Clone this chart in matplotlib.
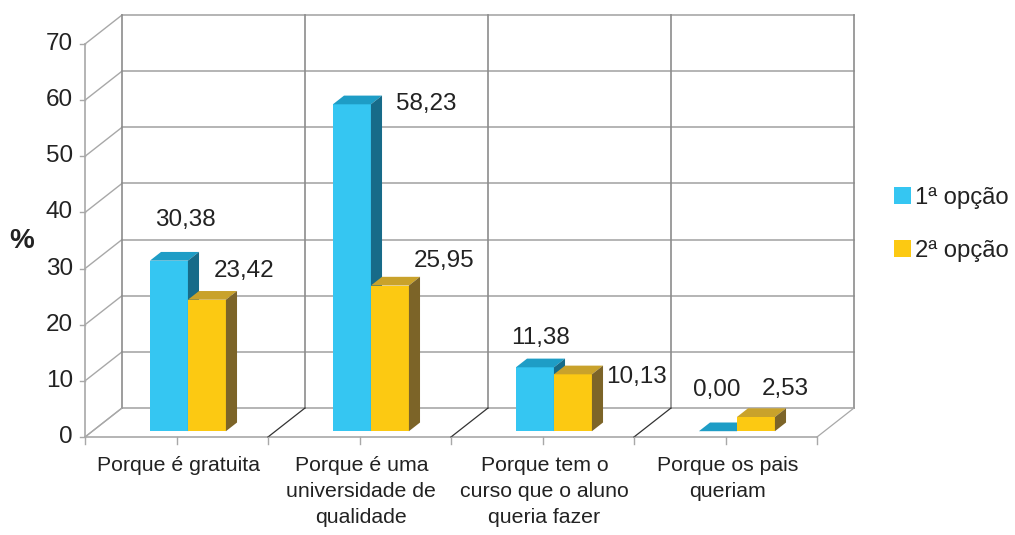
import matplotlib
matplotlib.use("Agg")
import matplotlib.pyplot as plt
from matplotlib.patches import Polygon

plt.rcParams['font.family'] = ['Liberation Sans', 'DejaVu Sans']

categories = ["Porque é gratuita", "Porque é uma\nuniversidade de\nqualidade",
              "Porque tem o\ncurso que o aluno\nqueria fazer", "Porque os pais\nqueriam"]
opcao1 = [30.38, 58.23, 11.38, 0.00]
opcao2 = [23.42, 25.95, 10.13, 2.53]
series_names = ["1ª opção", "2ª opção"]
yticks = [0, 10, 20, 30, 40, 50, 60, 70]
labels1 = ["30,38", "58,23", "11,38", "0,00"]
labels2 = ["23,42", "25,95", "10,13", "2,53"]

W, H = 1015, 535
fig = plt.figure(figsize=(W / 100, H / 100), dpi=100)

# pixel mapping: x=0 -> 85px, 1 unit = 183px ; y=0 -> 437px, 1 unit = 5.614px
PX_X, X0PX = 183.0, 85.0
PX_Y, Y0PX = 5.614, 437.0
xlim = (-0.3, 4.4)
ylim = (-3.0, 76.0)
left = (X0PX + xlim[0] * PX_X) / W
right = (X0PX + xlim[1] * PX_X) / W
bottom = 1 - (Y0PX - ylim[0] * PX_Y) / H
top = 1 - (Y0PX - ylim[1] * PX_Y) / H
ax = fig.add_axes([left, bottom, right - left, top - bottom])
ax.set_xlim(*xlim)
ax.set_ylim(*ylim)
ax.axis('off')

DX = 37 / PX_X
DY = 29 / PX_Y
ymax = 70
ncat = len(categories)
grid_c = '#a8a8a8'
dark_c = '#8c8c8c'
txt_c = '#222222'

# back wall horizontal gridlines and left wall diagonals
for v in yticks:
    ax.plot([DX, ncat + DX], [v + DY, v + DY], color=grid_c, lw=1.2, zorder=1)
    ax.plot([0, DX], [v, v + DY], color=grid_c, lw=1.0, zorder=1)
    ax.plot([-0.027, 0], [v, v], color=grid_c, lw=1.0, zorder=1)
    ax.text(-0.065, v, str(v), ha='right', va='center', fontsize=17.5, color=txt_c)
# back verticals
for k in range(ncat + 1):
    ax.plot([k + DX, k + DX], [DY, ymax + DY], color=dark_c, lw=1.2, zorder=1)
# left axis
ax.plot([0, 0], [0, ymax], color=grid_c, lw=1.2, zorder=1)
# floor
ax.plot([0, ncat], [0, 0], color=grid_c, lw=1.2, zorder=1)
for k in range(ncat + 1):
    c = '#333333' if 0 < k < ncat else grid_c
    ax.plot([k, k + DX], [0, DY], color=c, lw=0.9, zorder=1)
for t in [i * 0.5 for i in range(2 * ncat + 1)]:
    ax.plot([t, t], [0, -1.3], color=grid_c, lw=1.0, zorder=1)

# bars
w = 38 / PX_X
f1, f2 = 0.2, 0.5
d = f2 - f1
base = f1 * DY
cols = [('#35C6F2', '#1E9DC6', '#176B89'), ('#FCC912', '#C9A22B', '#7C6428')]
for si, vals in enumerate([opcao1, opcao2]):
    fc, tc, sc = cols[si]
    lefts = [k + 0.5 - w + 0.022 + f1 * DX + si * w for k in range(ncat)]
    ax.bar(lefts, vals, width=w, bottom=base, align='edge', color=fc,
           edgecolor='none', zorder=3 + si, label=series_names[si])
    for x0, v in zip(lefts, vals):
        yt = base + v
        top_face = Polygon([(x0, yt), (x0 + w, yt), (x0 + w + d * DX, yt + d * DY),
                            (x0 + d * DX, yt + d * DY)], closed=True,
                           facecolor=tc, edgecolor='none', zorder=3 + si)
        side_face = Polygon([(x0 + w, base), (x0 + w, yt), (x0 + w + d * DX, yt + d * DY),
                             (x0 + w + d * DX, base + d * DY)], closed=True,
                            facecolor=sc, edgecolor='none', zorder=3 + si)
        ax.add_patch(top_face)
        ax.add_patch(side_face)

# value labels (positions relative to bars)
lab_off1 = [(0.09, 7.3), (0.404, 0.0), (0.03, 5.3), (-0.005, 7.4)]
lab_off2 = [(0.203, 0.6), (0.295, -0.2), (0.346, -4.9), (0.16, 0.45)]
for k in range(ncat):
    xb = k + 0.5 - w + 0.022 + f1 * DX
    dx1, dy1 = lab_off1[k]
    ax.text(xb + w / 2 + dx1, base + opcao1[k] + dy1, labels1[k], ha='center', va='center',
            fontsize=17.5, color=txt_c, zorder=10)
    dx2, dy2 = lab_off2[k]
    ax.text(xb + 1.5 * w + dx2, base + opcao2[k] + dy2 + 4.5, labels2[k], ha='center', va='center',
            fontsize=17.5, color=txt_c, zorder=10)

# category labels
for k, c in enumerate(categories):
    ax.text(k + 0.5 + 0.01, -3.35, c, ha='center', va='top', fontsize=15.3, color=txt_c,
            linespacing=1.47)

# y label
fig.text(22 / W, 1 - 241 / H, '%', ha='center', va='center', fontsize=20,
         fontweight='bold', color=txt_c)

# legend
leg = fig.legend(loc='upper left', bbox_to_anchor=(884 / W, 1 - 177 / H), frameon=False,
                 fontsize=17.2, handlelength=0.75, handleheight=0.75, handletextpad=0.15,
                 labelspacing=1.3, borderaxespad=0)
for t in leg.get_texts():
    t.set_color(txt_c)

fig.savefig('out.png', dpi=100)
